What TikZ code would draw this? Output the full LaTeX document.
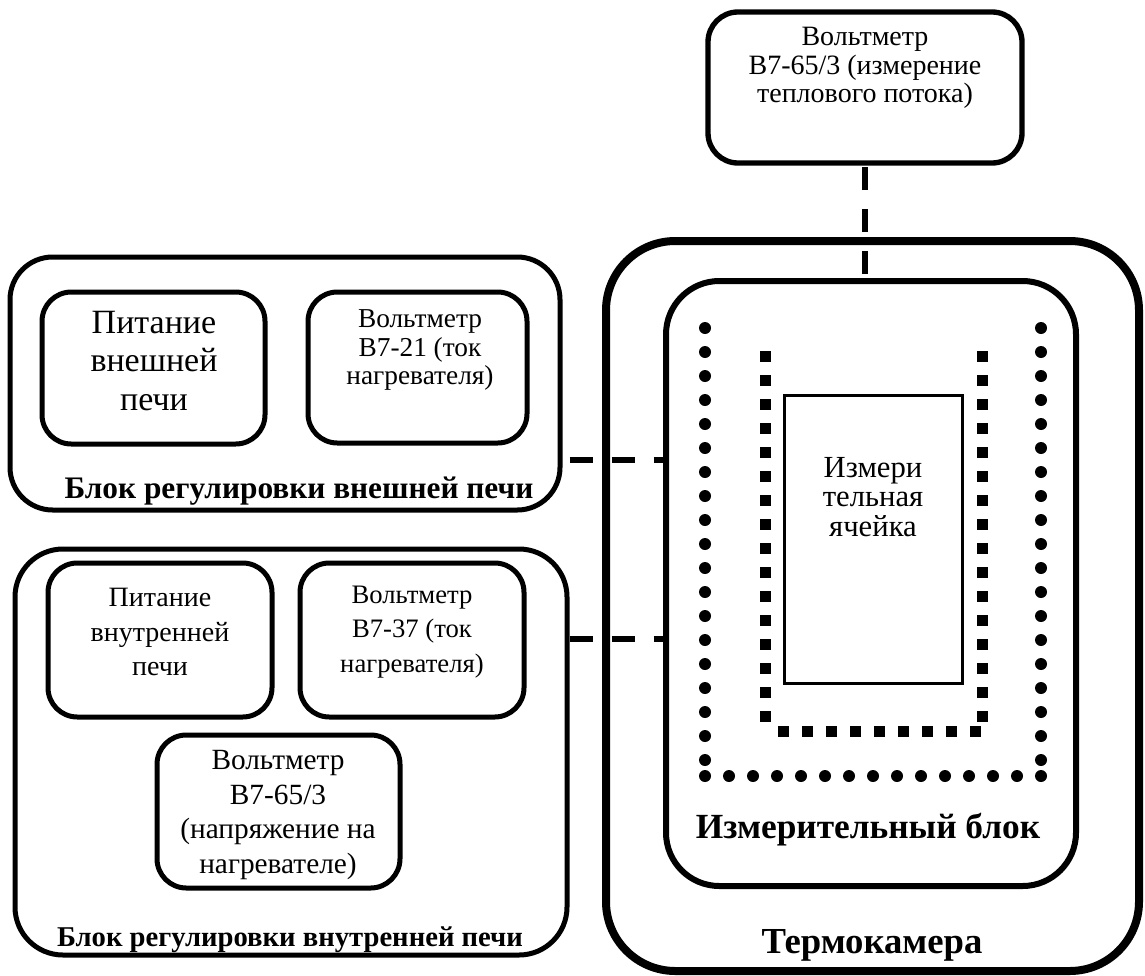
\documentclass[tikz,border=0pt]{standalone}
\usepackage{fontspec}
\setmainfont{Liberation Serif}
\usetikzlibrary{fit}
\tikzset{
  rbox/.style={draw, rounded corners=#1, inner sep=0pt},
  txt/.style={align=center, inner sep=0pt},
  dashconn/.style={line width=4.5pt, dash pattern=on 17.25pt off 14.25pt},
  dotline/.style={line width=9pt, line cap=round, dash pattern=on 0pt off 18pt},
  sqline/.style={line width=8.25pt, line cap=butt, dash pattern=on 8.25pt off 9.75pt},
}
\begin{document}
\begin{tikzpicture}[x=0.75pt,y=-0.75pt]
\useasboundingbox (0,0) rectangle (1145,975);

% top voltmeter
\node[rbox=22.5pt, line width=4pt, fit={(708,12) (1022,163)}] (vtop) {};
\node[txt, font=\fontsize{21}{21.4}\selectfont] (vtopt) at (865,68) {Вольтметр\\В7-65/3 (измерение\\теплового потока)};

% thermochamber
\node[rbox=52pt, line width=6pt, fit={(606,241) (1139,971)}] (cham) {};
\node[txt, font=\bfseries\fontsize{27.5}{30}\selectfont] (chamt) at (872,945) {Термокамера};

% measuring block
\node[rbox=40pt, line width=4.5pt, fit={(666,281) (1076,886)}] (meas) {};
\node[txt, font=\bfseries\fontsize{26.5}{30}\selectfont] (meast) at (868,830) {Измерительный блок};

% dotted and square-dashed enclosures
\draw[dotline] (705,328) -- (705,770);
\draw[dotline] (705,776) -- (1042,776);
\draw[dotline] (1041,328) -- (1041,770);
\draw[sqline] (765,351) -- (765,723);
\draw[sqline] (982,351) -- (982,723);
\draw[sqline] (778,731) -- (982,731);

% measuring cell
\node[draw, line width=2.25pt, inner sep=0pt, fit={(784,395) (962,683)}] (cell) {};
\node[txt, font=\fontsize{23}{22}\selectfont] (cellt) at (873,497) {Измери\\тельная\\ячейка};

% outer furnace control block
\node[rbox=32pt, line width=3.75pt, fit={(10,257) (560,510)}] (blk1) {};
\node[rbox=22pt, line width=3.75pt, fit={(42,292) (265,444)}] (p1) {};
\node[txt, font=\fontsize{25.5}{28.7}\selectfont] (p1t) at (154,361) {Питание\\внешней\\печи};
\node[rbox=22pt, line width=3.75pt, fit={(308,292) (527,443)}] (v1) {};
\node[txt, font=\fontsize{20.5}{21.5}\selectfont] (v1t) at (420,350) {Вольтметр\\В7-21 (ток\\нагревателя)};
\node[txt, font=\bfseries\fontsize{23.5}{26}\selectfont] (blk1t) at (299,491) {Блок регулировки внешней печи};

% inner furnace control block
\node[rbox=36pt, line width=3.75pt, fit={(15,549) (567,955)}] (blk2) {};
\node[rbox=22pt, line width=3.75pt, fit={(48,563) (272,717)}] (p2) {};
\node[txt, font=\fontsize{21}{25.9}\selectfont] (p2t) at (160,632) {Питание\\внутренней\\печи};
\node[rbox=22pt, line width=3.75pt, fit={(300,563) (524,717)}] (v2) {};
\node[txt, font=\fontsize{20}{25.9}\selectfont] (v2t) at (412,632) {Вольтметр\\В7-37 (ток\\нагревателя)};
\node[rbox=22pt, line width=3.75pt, fit={(157,735) (400,888)}] (v3) {};
\node[txt, font=\fontsize{22}{25.9}\selectfont] (v3t) at (278,815) {Вольтметр\\В7-65/3\\(напряжение на\\нагревателе)};
\node[txt, font=\bfseries\fontsize{21.5}{26}\selectfont] (blk2t) at (290,940) {Блок регулировки внутренней печи};

% connectors
\coordinate (y1) at (0,460);
\coordinate (y2) at (0,639);
\draw[dashconn, dash phase=26.25pt] (blk1.east |- y1) -- (meas.west |- y1);
\draw[dashconn] (blk2.east |- y2) -- (meas.west |- y2);
\draw[dashconn, dash phase=28.5pt] (meas.north -| vtop.south) -- (vtop.south);
\end{tikzpicture}
\end{document}
